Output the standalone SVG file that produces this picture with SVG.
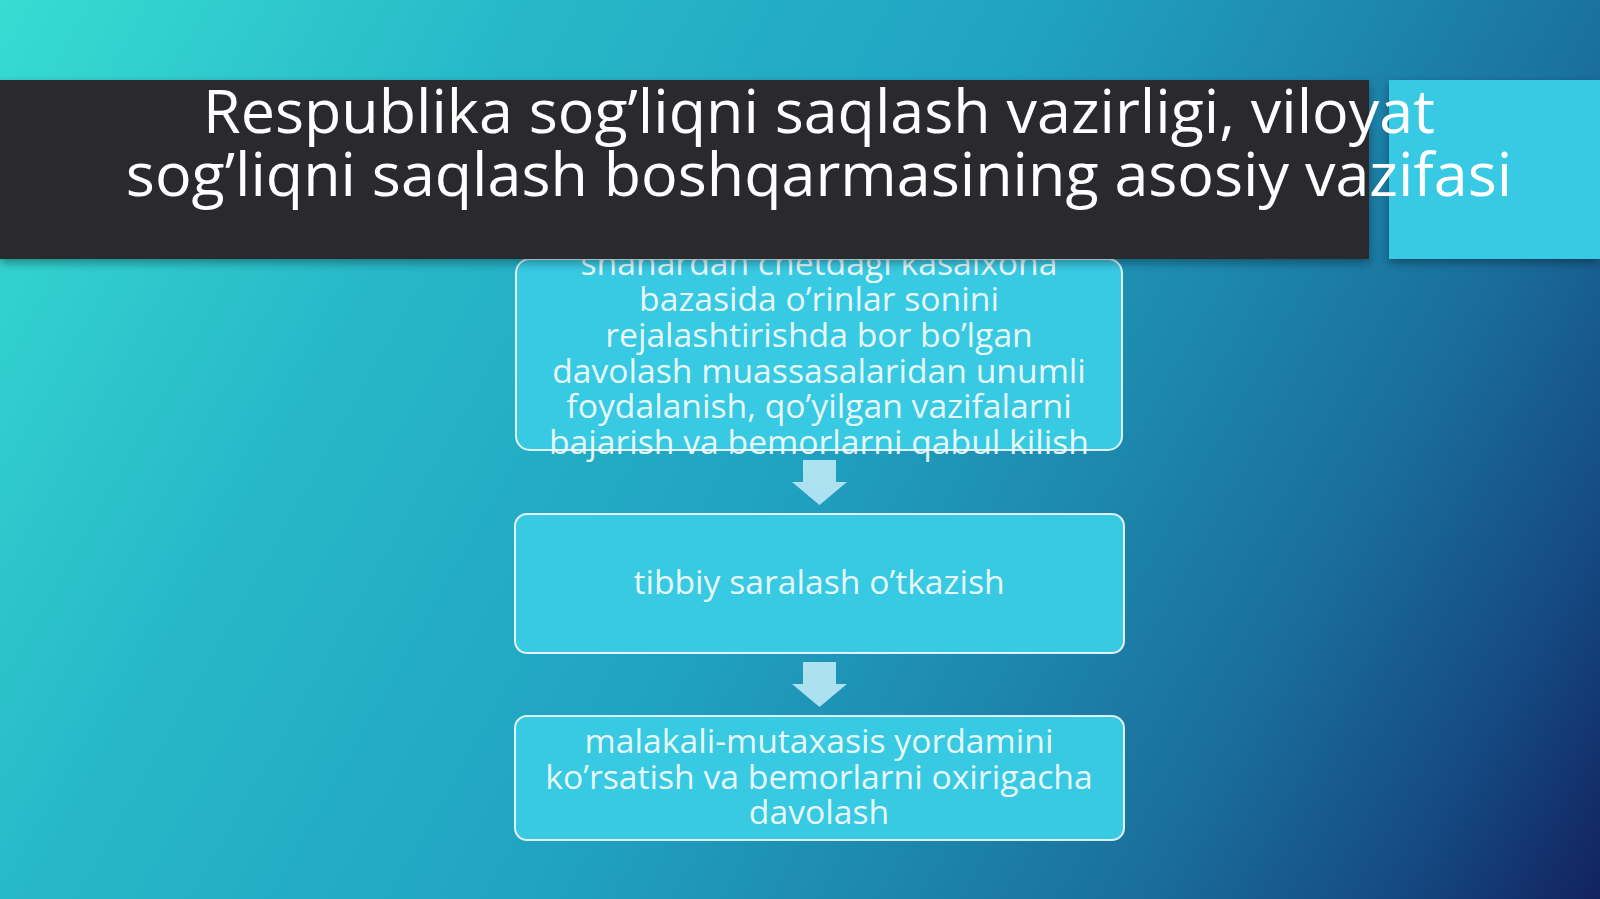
<svg xmlns="http://www.w3.org/2000/svg" width="1600" height="899" viewBox="0 0 1600 899">
<defs>
<linearGradient id="bg" gradientUnits="userSpaceOnUse" x1="0" y1="0" x2="1600" y2="899">
<stop offset="0" stop-color="#37dcd2"/>
<stop offset="0.25" stop-color="#27b8c8"/>
<stop offset="0.5" stop-color="#20a2c2"/>
<stop offset="0.65" stop-color="#1d88ad"/>
<stop offset="0.78" stop-color="#1a6e9c"/>
<stop offset="0.9" stop-color="#154a82"/>
<stop offset="1" stop-color="#12225f"/>
</linearGradient>
<linearGradient id="arr" x1="0" y1="0" x2="0" y2="1">
<stop offset="0" stop-color="#c6eef9" stop-opacity="0.85"/>
<stop offset="1" stop-color="#b4e4f4" stop-opacity="0.95"/>
</linearGradient>
<filter id="sh" x="-5%" y="-10%" width="110%" height="130%">
<feDropShadow dx="0" dy="4" stdDeviation="5" flood-color="#000" flood-opacity="0.35"/>
</filter>
<style>
.box{fill:#38c9e3;stroke:#ffffff;stroke-opacity:0.85;stroke-width:2}
.t{font-family:"Open Sans","Noto Sans","Liberation Sans",sans-serif;fill:#ffffff;text-anchor:middle}
.bt{font-size:33.7px;fill-opacity:0.9}
.title{font-size:61px}
.arrow{fill:url(#arr)}
</style>
</defs>
<rect x="0" y="0" width="1600" height="899" fill="url(#bg)"/>
<g id="node1">
<rect class="box" x="516" y="259" width="606" height="191" rx="14"/>
<text class="t bt"><tspan x="819" y="275">shahardan chetdagi kasalxona</tspan><tspan x="819" y="311">bazasida o’rinlar sonini</tspan><tspan x="819" y="347">rejalashtirishda bor bo’lgan</tspan><tspan x="819" y="383">davolash muassasalaridan unumli</tspan><tspan x="819" y="418">foydalanish, qo’yilgan vazifalarni</tspan><tspan x="819" y="454">bajarish va bemorlarni qabul kilish</tspan></text>
</g>
<g id="node2">
<rect class="box" x="515" y="514" width="609" height="139" rx="12"/>
<text class="t bt" x="819" y="594">tibbiy saralash o’tkazish</text>
</g>
<g id="node3">
<rect class="box" x="515" y="716" width="609" height="124" rx="12"/>
<text class="t bt"><tspan x="819" y="753">malakali-mutaxasis yordamini</tspan><tspan x="819" y="789">ko’rsatish va bemorlarni oxirigacha</tspan><tspan x="819" y="824">davolash</tspan></text>
</g>
<g id="connectors">
<path class="arrow" d="M803 460 H836 V482 H847 L819.5 505 L792 482 H803 Z"/>
<path class="arrow" d="M803 662 H836 V684 H847 L819.5 707 L792 684 H803 Z"/>
</g>
<g id="title">
<rect x="1389" y="80" width="211" height="179" fill="#37c9e4" filter="url(#sh)"/>
<rect x="0" y="80" width="1369" height="179" fill="#2a292d" filter="url(#sh)"/>
<text class="t title"><tspan x="819" y="133">Respublika sog’liqni saqlash vazirligi, viloyat</tspan><tspan x="819" y="196">sog’liqni saqlash boshqarmasining asosiy vazifasi</tspan></text>
</g>
</svg>
